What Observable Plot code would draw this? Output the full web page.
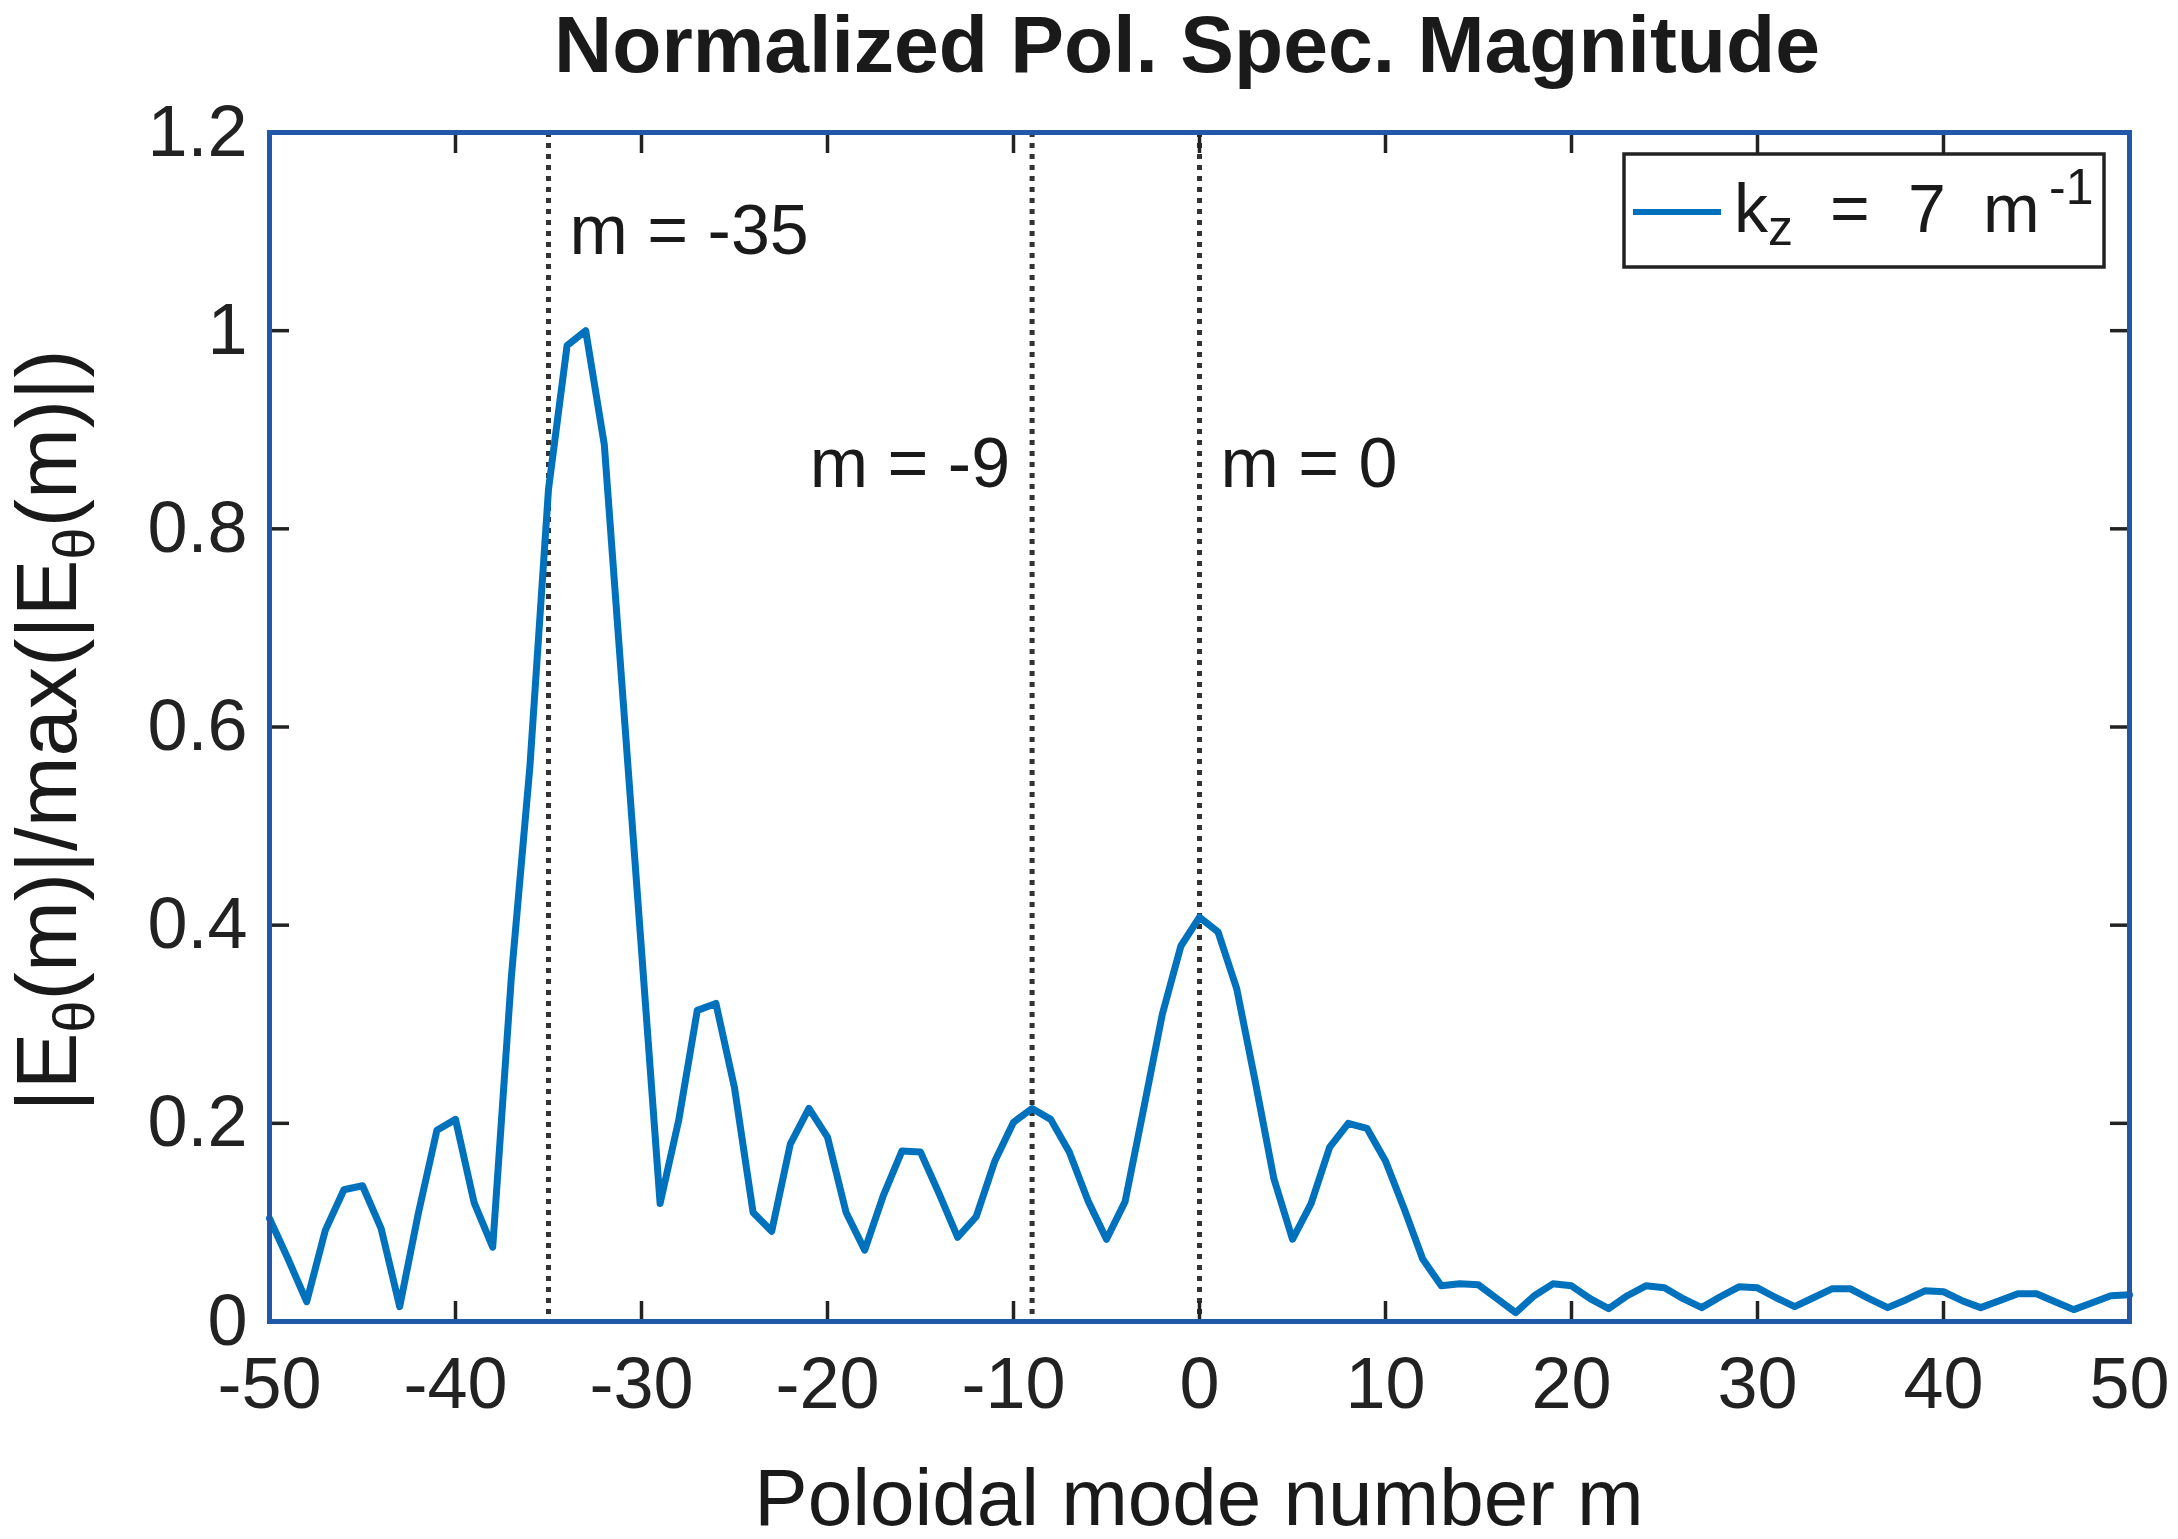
<!DOCTYPE html>
<html>
<head>
<meta charset="utf-8">
<script src="https://cdn.jsdelivr.net/npm/d3@7"></script>
<script src="https://cdn.jsdelivr.net/npm/@observablehq/plot@0.6"></script>
<style>
  body { margin: 0; background: #fff; }
  svg { display: block; }
</style>
</head>
<body>
<div id="chart"></div>
<script>
// ---- data ----
const modeNumbers = [
  -50,-49,-48,-47,-46,-45,-44,-43,-42,-41,-40,-39,-38,-37,-36,-35,-34,-33,-32,-31,
  -30,-29,-28,-27,-26,-25,-24,-23,-22,-21,-20,-19,-18,-17,-16,-15,-14,-13,-12,-11,
  -10,-9,-8,-7,-6,-5,-4,-3,-2,-1,0,1,2,3,4,5,6,7,8,9,
  10,11,12,13,14,15,16,17,18,19,20,21,22,23,24,25,26,27,28,29,
  30,31,32,33,34,35,36,37,38,39,40,41,42,43,44,45,46,47,48,49,50
];
const magnitude = [
  0.104,0.063,0.020,0.092,0.133,0.137,0.094,0.015,0.109,0.193,
  0.204,0.120,0.075,0.347,0.560,0.840,0.985,1.000,0.885,0.630,
  0.375,0.119,0.203,0.314,0.321,0.236,0.110,0.091,0.179,0.215,
  0.186,0.110,0.072,0.127,0.172,0.171,0.129,0.085,0.106,0.162,
  0.201,0.215,0.204,0.171,0.122,0.083,0.121,0.215,0.310,0.379,
  0.408,0.393,0.336,0.242,0.144,0.083,0.119,0.176,0.200,0.195,
  0.162,0.114,0.063,0.036,0.038,0.037,0.023,0.009,0.026,0.038,
  0.036,0.023,0.013,0.026,0.036,0.034,0.023,0.014,0.025,0.035,
  0.034,0.024,0.015,0.024,0.033,0.033,0.023,0.014,0.022,0.031,
  0.030,0.021,0.014,0.021,0.028,0.028,0.020,0.012,0.019,0.026,0.027
];
const markerModes = [-35, -9, 0];
const annotationText = ["m = -35", "m = -9", "m = 0"];
const annotationMode = [-35, -9, 0];
const annotationLevel = [1.10, 0.865, 0.865];
const annotationAnchor = ["start", "end", "start"];
const xTicks = [-50, -40, -30, -20, -10, 0, 10, 20, 30, 40, 50];
const xTickLabels = ["-50", "-40", "-30", "-20", "-10", "0", "10", "20", "30", "40", "50"];
const yTicks = [0, 0.2, 0.4, 0.6, 0.8, 1.0, 1.2];
const yTickLabels = ["0", "0.2", "0.4", "0.6", "0.8", "1", "1.2"];
const titleText = "Normalized Pol. Spec. Magnitude";
const xLabelText = "Poloidal mode number m";

// ---- layout ----
const W = 2178, H = 1539;
const mL = 269, mR = 49, mT = 132, mB = 218;
const FONT = "'Liberation Sans', Arial, Helvetica, sans-serif";
const LINE_BLUE = "#0072BD";
const AXIS_BLUE = "#2158a8";

const data = modeNumbers.map((m, i) => ({m, v: magnitude[i]}));
const annotations = annotationText.map((t, i) => ({t, m: annotationMode[i], v: annotationLevel[i], a: annotationAnchor[i]}));

const fmtIdx = (ticks, labels) => d => {
  const i = ticks.findIndex(t => Math.abs(t - d) < 1e-9);
  return i >= 0 ? labels[i] : "";
};

const plot = Plot.plot({
  width: W, height: H,
  marginLeft: mL, marginRight: mR, marginTop: mT, marginBottom: mB,
  style: {fontFamily: FONT, fontSize: "72px", color: "#222", background: "#fff", overflow: "visible"},
  x: {domain: [-50, 50]},
  y: {domain: [0, 1.2]},
  marks: [
    Plot.ruleX(markerModes, {stroke: "#333", strokeWidth: 5, strokeDasharray: "5 6"}),
    Plot.line(data, {x: "m", y: "v", stroke: LINE_BLUE, strokeWidth: 7, strokeLinejoin: "round", strokeLinecap: "round"}),
    Plot.text(annotations.filter(d => d.a === "start"), {x: "m", y: "v", text: "t", textAnchor: "start", dx: 21, fontSize: 70, fill: "#1a1a1a"}),
    Plot.text(annotations.filter(d => d.a === "end"), {x: "m", y: "v", text: "t", textAnchor: "end", dx: -22, fontSize: 70, fill: "#1a1a1a"}),
    Plot.axisX({anchor: "bottom", ticks: xTicks, tickSize: -20, tickPadding: 55, strokeWidth: 3.5, tickFormat: fmtIdx(xTicks, xTickLabels), label: null, fontSize: 72}),
    Plot.axisX({anchor: "top", ticks: xTicks, tickSize: -20, strokeWidth: 3.5, tickFormat: () => "", label: null}),
    Plot.axisY({anchor: "left", ticks: yTicks, tickSize: -20, tickPadding: 42, strokeWidth: 3.5, tickFormat: fmtIdx(yTicks, yTickLabels), label: null, fontSize: 72}),
    Plot.axisY({anchor: "right", ticks: yTicks, tickSize: -20, strokeWidth: 3.5, tickFormat: () => "", label: null}),
    Plot.frame({stroke: AXIS_BLUE, strokeWidth: 5})
  ]
});

document.getElementById("chart").appendChild(plot);
const svg = d3.select(plot);
const plotW = W - mL - mR, plotH = H - mT - mB;

// title
svg.append("text")
  .attr("x", mL + plotW / 2 - 12).attr("y", 72)
  .attr("text-anchor", "middle")
  .style("font-family", FONT).style("font-size", "80.5px").style("font-weight", "bold").style("fill", "#1a1a1a")
  .text(titleText);

// x label
svg.append("text")
  .attr("x", mL + plotW / 2).attr("y", H - 14)
  .attr("text-anchor", "middle")
  .style("font-family", FONT).style("font-size", "80px").style("fill", "#1a1a1a")
  .text(xLabelText);

// y label with subscripts
const yl = svg.append("text")
  .attr("transform", `translate(76,${mT + plotH / 2 + 4}) rotate(-90)`)
  .attr("text-anchor", "middle")
  .style("font-family", FONT).style("font-size", "85px").style("fill", "#1a1a1a");
yl.append("tspan").text("|E");
yl.append("tspan").attr("dy", 18).style("font-size", "58px").text("θ");
yl.append("tspan").attr("dy", -18).text("(m)|/max(|E");
yl.append("tspan").attr("dy", 18).style("font-size", "58px").text("θ");
yl.append("tspan").attr("dy", -18).text("(m)|)");

// legend
const lgRight = W - mR - 25, lgTop = mT + 22, lgW = 480, lgH = 113;
const lg = svg.append("g");
lg.append("rect")
  .attr("x", lgRight - lgW).attr("y", lgTop).attr("width", lgW).attr("height", lgH)
  .attr("fill", "#fff").attr("stroke", "#222").attr("stroke-width", 3.5);
lg.append("line")
  .attr("x1", lgRight - lgW + 9).attr("x2", lgRight - lgW + 97)
  .attr("y1", lgTop + 58).attr("y2", lgTop + 58)
  .attr("stroke", LINE_BLUE).attr("stroke-width", 6);
const lx = lgRight - lgW;
const lt = lg.append("text")
  .attr("x", lx + 110).attr("y", lgTop + 78)
  .attr("text-anchor", "start")
  .style("font-family", FONT).style("font-size", "68px").style("fill", "#1a1a1a");
lt.append("tspan").text("k");
lt.append("tspan").attr("dy", 13).style("font-size", "50px").text("z");
lt.append("tspan").attr("dy", -13).attr("x", lx + 206).text("=");
lt.append("tspan").attr("x", lx + 284).text("7");
lt.append("tspan").attr("x", lx + 359).text("m");
lt.append("tspan").attr("x", lx + 425).attr("dy", -28).style("font-size", "50px").text("-1");
</script>
</body>
</html>
